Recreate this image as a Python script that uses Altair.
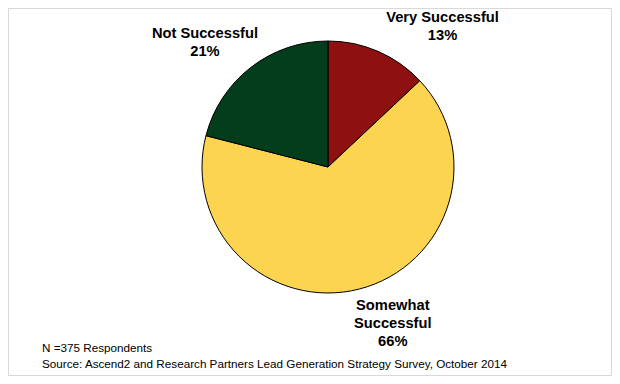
import altair as alt
import pandas as pd

categories = ["Very Successful", "Somewhat Successful", "Not Successful"]
label_lines = ["Very Successful", "Somewhat\nSuccessful", "Not Successful"]
percents = [13, 66, 21]
colors = ["#8E1010", "#FDD44F", "#033D1B"]
footnotes = ["N =375 Respondents",
             "Source: Ascend2 and Research Partners Lead Generation Strategy Survey, October 2014"]

df = pd.DataFrame({
    "category": categories,
    "pct": percents,
    "order": list(range(len(categories))),
    "label": [f"{l}\n{p}%" for l, p in zip(label_lines, percents)],
})

CX, CY, R = 320, 159, 126

base = alt.Chart(df)

pie = base.mark_arc(radius=R, stroke="black", strokeWidth=1).encode(
    theta=alt.Theta("pct:Q", stack=True),
    order=alt.Order("order:Q"),
    color=alt.Color("category:N", scale=alt.Scale(domain=categories, range=colors), legend=None),
    x=alt.value(CX),
    y=alt.value(CY),
)

offsets = {"Very Successful": (51, -2), "Somewhat Successful": (25, -16), "Not Successful": (-25, -7)}

label_layers = []
for cat in categories:
    dx, dy = offsets[cat]
    lay = base.transform_window(
        cum="sum(pct)", sort=[alt.SortField("order")]
    ).transform_calculate(
        mid="datum.cum - datum.pct / 2"
    ).transform_filter(
        alt.datum.category == cat
    ).mark_text(
        radius=160, dx=dx, dy=dy, font="Liberation Sans", fontWeight="bold",
        fontSize=14.7, lineBreak="\n", lineHeight=18, color="black", align="center",
        baseline="middle",
    ).encode(
        theta=alt.Theta("mid:Q", scale=alt.Scale(domain=[0, 100])),
        text="label:N",
        x=alt.value(CX),
        y=alt.value(CY),
    )
    label_layers.append(lay)

foot_df = pd.DataFrame({"text": footnotes, "i": list(range(len(footnotes)))})
foot = alt.Chart(foot_df).mark_text(
    align="left", baseline="middle", font="Liberation Sans", fontSize=11.7, color="black"
).encode(
    text="text:N",
    x=alt.value(34),
    y=alt.Y("i:Q", axis=None, scale=alt.Scale(domain=[0, 1], range=[340, 356])),
)

chart = alt.layer(pie, *label_layers, foot).properties(
    width=604, height=368, padding=0, autosize=alt.AutoSizeParams(type="none")
).configure_view(
    stroke="#d9d9d9", strokeWidth=2, cornerRadius=2
)

chart.save("out.html", embed_options={"renderer": "svg", "actions": False})
